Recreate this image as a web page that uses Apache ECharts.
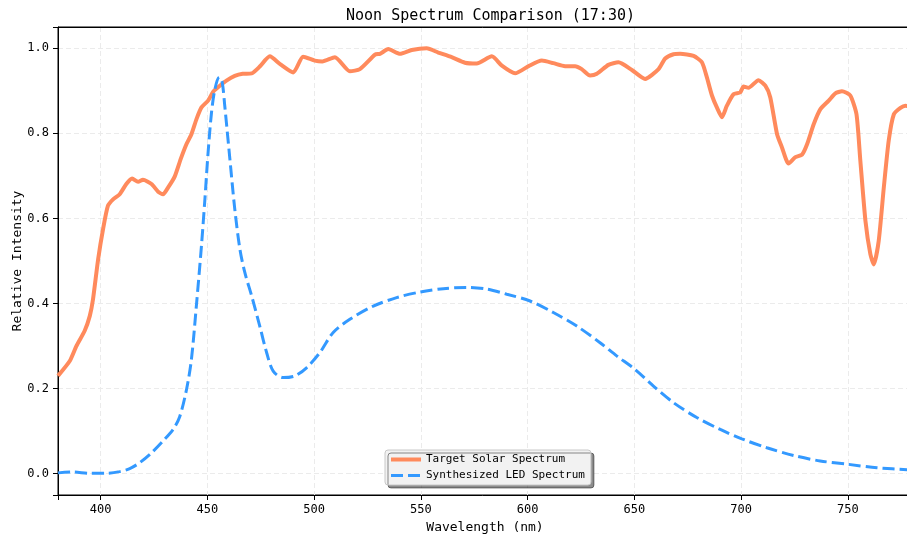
<!DOCTYPE html>
<html>
<head>
<meta charset="utf-8">
<title>Noon Spectrum Comparison</title>
<script src="https://cdn.jsdelivr.net/npm/echarts@6/dist/echarts.min.js"></script>
<style>
  html, body { margin: 0; padding: 0; background: #fff; }
  #chart { width: 907px; height: 539px; }
</style>
</head>
<body>
<div id="chart"></div>
<script>
// wavelength (nm) / relative intensity
const solarWl = [380, 385.5, 388.6, 392.5, 394.9, 396.4, 398.8, 401.1, 403.4, 405.8, 408.9, 412, 414.7, 417.5, 419.8,
  423.8, 426.9, 429.2, 431.6, 434.7, 437.5, 440.2, 442.5, 444.9, 447.2, 450.3, 452.7, 455.8, 458.9, 462.8, 466.5,
  470.7, 474.5, 479.2, 484.2, 490.2, 494.8, 500.3, 503.8, 509.7, 516.7, 521.4, 528.5, 530.8, 534.7, 540.2, 545.7,
  552.7, 558.1, 564.4, 570.6, 576.1, 583.2, 587.9, 594.1, 600.4, 606.6, 612, 617.5, 622.2, 625.3, 629.2, 632.4,
  637.8, 642.5, 648.8, 655, 661.3, 664.4, 668.3, 671.4, 677.7, 681.6, 683.9, 686.3, 688.6, 691, 693.3, 696.4,
  699.5, 701.1, 703.4, 708.1, 711.3, 713.6, 716.8, 719.1, 722.2, 725.4, 728.5, 730.9, 734, 737.1, 741, 744.1,
  747.2, 751.1, 754, 755.8, 758.2, 760.5, 762.1, 764.4, 766.8, 769.1, 771.5, 774.6, 776.9, 780]
const solarVal = [0.23, 0.265, 0.30, 0.336, 0.371, 0.41, 0.504, 0.575, 0.63, 0.645, 0.657, 0.681, 0.694, 0.686, 0.691,
  0.681, 0.663, 0.657, 0.673, 0.699, 0.74, 0.775, 0.798, 0.834, 0.861, 0.877, 0.898, 0.912, 0.924, 0.935, 0.94,
  0.941, 0.957, 0.981, 0.962, 0.943, 0.98, 0.971, 0.969, 0.979, 0.946, 0.951, 0.985, 0.987, 0.998, 0.987, 0.996,
  1.0, 0.99, 0.979, 0.966, 0.964, 0.981, 0.959, 0.941, 0.958, 0.971, 0.965, 0.958, 0.958, 0.951, 0.936, 0.94,
  0.961, 0.967, 0.949, 0.928, 0.951, 0.976, 0.986, 0.987, 0.982, 0.967, 0.932, 0.889, 0.861, 0.838, 0.865, 0.892,
  0.896, 0.91, 0.907, 0.925, 0.912, 0.885, 0.798, 0.767, 0.729, 0.744, 0.75, 0.775, 0.822, 0.857, 0.877, 0.894,
  0.899, 0.889, 0.845, 0.736, 0.594, 0.516, 0.492, 0.547, 0.673, 0.783, 0.845, 0.86, 0.865, 0.862]

const ledWl = [380, 387, 394.9, 402.7, 408.9, 413.6, 418.3, 423.8, 429.2, 433.9, 437, 440.2, 442.5, 444.9, 447.2,
  448.8, 450.3, 451.9, 453.5, 455.5, 456.9, 458.1, 460.5, 462.8, 465.2, 467.5, 470.7, 474.5, 477.7, 480.8, 485.5,
  491, 496.4, 502.7, 508.9, 516.7, 527.7, 538.6, 549.5, 560.5, 571.4, 580.8, 590.2, 601.1, 612, 623, 633.9,
  641.7, 650.3, 658.9, 668.3, 679.2, 690.2, 700.3, 712, 724.5, 737, 750.3, 763.6, 780]
const ledVal = [0.002, 0.004, 0.001, 0.001, 0.005, 0.012, 0.026, 0.049, 0.077, 0.104, 0.134, 0.198, 0.269, 0.40, 0.536,
  0.645, 0.755, 0.849, 0.904, 0.932, 0.92, 0.865, 0.74, 0.622, 0.528, 0.473, 0.418, 0.347, 0.285, 0.241, 0.226,
  0.23, 0.249, 0.285, 0.332, 0.363, 0.394, 0.414, 0.427, 0.435, 0.438, 0.434, 0.422, 0.406, 0.379, 0.347, 0.308,
  0.277, 0.245, 0.206, 0.167, 0.132, 0.104, 0.082, 0.061, 0.043, 0.03, 0.022, 0.014, 0.009]

const seriesNames = ['Target Solar Spectrum', 'Synthesized LED Spectrum']

const FONT = "'DejaVu Sans Mono', 'Liberation Mono', monospace"
const zip = (xs, ys) => xs.map((x, i) => [x, ys[i]])

const chart = echarts.init(document.getElementById('chart'))

chart.setOption({
  backgroundColor: '#fff',
  animation: false,
  title: {
    text: 'Noon Spectrum Comparison (17:30)',
    left: 341,
    top: 4,
    textStyle: { fontFamily: FONT, fontSize: 15, fontWeight: 'normal', color: '#000' },
  },
  grid: {
    left: 58, right: -5, top: 27, bottom: 44,
    outerBoundsMode: 'none',
    containLabel: false,
    show: true, borderColor: '#000', borderWidth: 1,
  },
  legend: {
    orient: 'vertical',
    left: 385,
    top: 450,
    data: [
      { name: seriesNames[0], lineStyle: { width: 4 } },
      { name: seriesNames[1], lineStyle: { width: 3 } },
    ],
    itemWidth: 30,
    itemHeight: 13,
    itemGap: 5,
    padding: [4, 6, 4, 4],
    itemStyle: { opacity: 0 },
    backgroundColor: '#f2f2f2',
    borderColor: '#c8c8c8',
    borderWidth: 1,
    borderRadius: 3,
    shadowColor: 'rgba(0, 0, 0, 0.45)',
    shadowBlur: 0,
    shadowOffsetX: 3,
    shadowOffsetY: 3,
    textStyle: { fontFamily: FONT, fontSize: 11, color: '#000' },
  },
  xAxis: [
    {
      type: 'value',
      min: 380,
      max: 780,
      splitNumber: 8,
      name: 'Wavelength (nm)',
      nameLocation: 'middle',
      nameGap: 25,
      nameTextStyle: { fontFamily: FONT, fontSize: 13, color: '#000' },
      axisLine: { onZero: false, lineStyle: { color: '#000', width: 1 } },
      axisTick: { show: true, length: 5, lineStyle: { color: '#000' } },
      axisLabel: {
        margin: 9,
        fontFamily: FONT, fontSize: 12, color: '#000',
        formatter: v => (v % 50 === 0 ? String(v) : ''),
      },
      splitLine: { show: true, lineStyle: { color: '#ebebeb', type: [5, 3] } },
    },
    {
      // top frame line
      type: 'value',
      position: 'top',
      min: 380,
      max: 780,
      axisLine: { show: true, onZero: false, lineStyle: { color: '#000', width: 1 } },
      axisTick: { show: false },
      axisLabel: { show: false },
      splitLine: { show: false },
    },
  ],
  yAxis: {
    type: 'value',
    min: -0.05,
    max: 1.05,
    splitNumber: 5,
    name: 'Relative Intensity',
    nameLocation: 'middle',
    nameGap: 34,
    nameMoveOverlap: false,
    nameTextStyle: { fontFamily: FONT, fontSize: 13, color: '#000' },
    axisLine: { show: true, onZero: false, lineStyle: { color: '#000', width: 1 } },
    axisTick: { show: true, length: 5, lineStyle: { color: '#000' } },
    axisLabel: {
      margin: 9,
      fontFamily: FONT, fontSize: 12, color: '#000',
      formatter: v => {
        const k = Math.round(v / 0.2)
        return Math.abs(v - k * 0.2) < 1e-6 ? v.toFixed(1) : ''
      },
    },
    splitLine: { show: true, lineStyle: { color: '#ebebeb', type: [5, 3] } },
  },
  series: [
    {
      name: seriesNames[0],
      type: 'line',
      data: zip(solarWl, solarVal),
      smooth: 0.2,
      symbol: 'none',
      lineStyle: { color: '#ff8a5c', width: 4 },
      itemStyle: { color: '#ff8a5c' },
    },
    {
      name: seriesNames[1],
      type: 'line',
      data: zip(ledWl, ledVal),
      smooth: 0.3,
      symbol: 'none',
      lineStyle: { color: '#3399ff', width: 3, type: [12, 5] },
      itemStyle: { color: '#3399ff' },
    },
  ],
})
</script>
</body>
</html>
